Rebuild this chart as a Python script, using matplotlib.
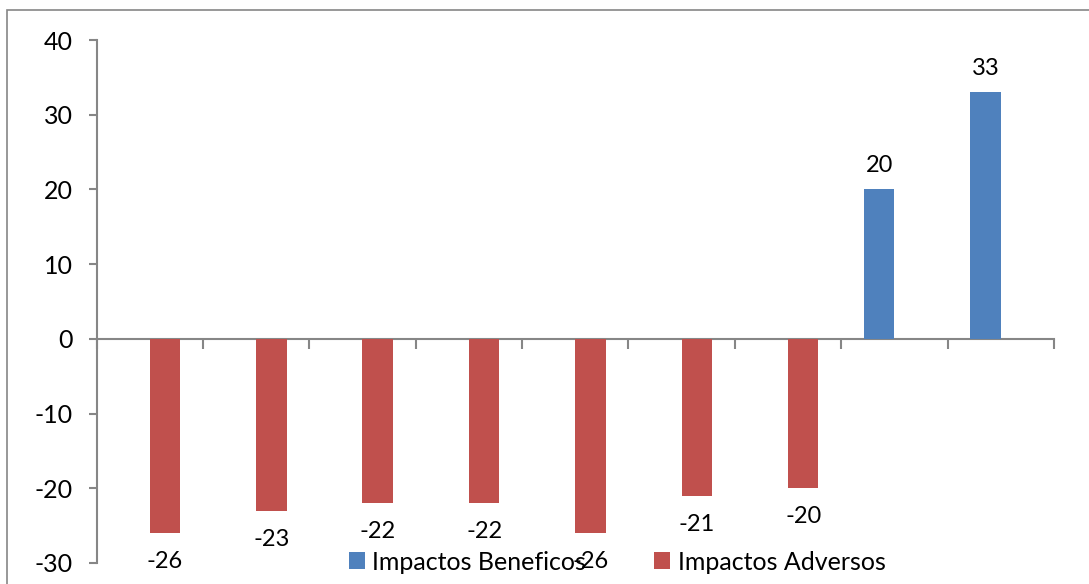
import numpy as np
import matplotlib.pyplot as plt
from matplotlib.patches import Rectangle

plt.rcParams['font.family'] = ['Lato', 'DejaVu Sans']
plt.rcParams['axes.unicode_minus'] = False

categories = ['1', '2', '3', '4', '5', '6', '7', '8', '9']
beneficos = [0, 0, 0, 0, 0, 0, 0, 20, 33]
adversos = [-26, -23, -22, -22, -26, -21, -20, 0, 0]
y_ticks = [-30, -20, -10, 0, 10, 20, 30, 40]

BLUE = '#4F81BD'
RED = '#C0504D'
GRAY = '#868686'

W, H = 1089, 584
fig = plt.figure(figsize=(W / 100, H / 100), dpi=100)
ax = fig.add_axes([96.5 / W, 1 - 563 / H, (1054 - 96.5) / W, (563 - 40) / H])

x = np.arange(len(categories))
bw = 0.286
ben_bars = ax.bar(x - bw / 2, beneficos, bw, color=BLUE, label='Impactos Beneficos', zorder=3)
adv_bars = ax.bar(x + bw / 2, adversos, bw, color=RED, label='Impactos Adversos', zorder=3)

# value labels only where the series has a bar
for bars, vals in [(ben_bars, beneficos), (adv_bars, adversos)]:
    for b, v in zip(bars, vals):
        if v == 0:
            continue
        cx = b.get_x() + b.get_width() / 2
        off = 3.2 if v > 0 else -3.8
        ax.text(cx, v + off, str(v), ha='center', va='center', fontsize=17, color='black', zorder=5)

ax.set_xlim(-0.5, len(categories) - 0.5)
ax.set_ylim(-30, 40)
ax.set_yticks(y_ticks)
ax.tick_params(axis='y', length=6, width=1.5, color=GRAY, labelsize=18, pad=11)

# category axis sits on zero with ticks between categories
ax.spines['bottom'].set_position(('data', 0))
ax.set_xticks(np.arange(-0.5, len(categories)))
ax.set_xticklabels([])
ax.tick_params(axis='x', direction='out', length=7, width=1.5, color=GRAY)
for side in ['top', 'right']:
    ax.spines[side].set_visible(False)
for side in ['left', 'bottom']:
    ax.spines[side].set_color(GRAY)
    ax.spines[side].set_linewidth(1.5)

fig.legend(handles=[ben_bars, adv_bars], loc='center', bbox_to_anchor=(617 / W, 1 - 562 / H),
           ncol=2, frameon=False, fontsize=18, handlelength=0.65, handleheight=0.65,
           handletextpad=0.3, columnspacing=2.7, borderpad=0)

fig.patches.append(Rectangle((7 / W, -0.1), 1.2, 1 - 10 / H + 0.1, transform=fig.transFigure,
                             fill=False, edgecolor=GRAY, linewidth=1.2))

fig.savefig('out.png', dpi=100)
